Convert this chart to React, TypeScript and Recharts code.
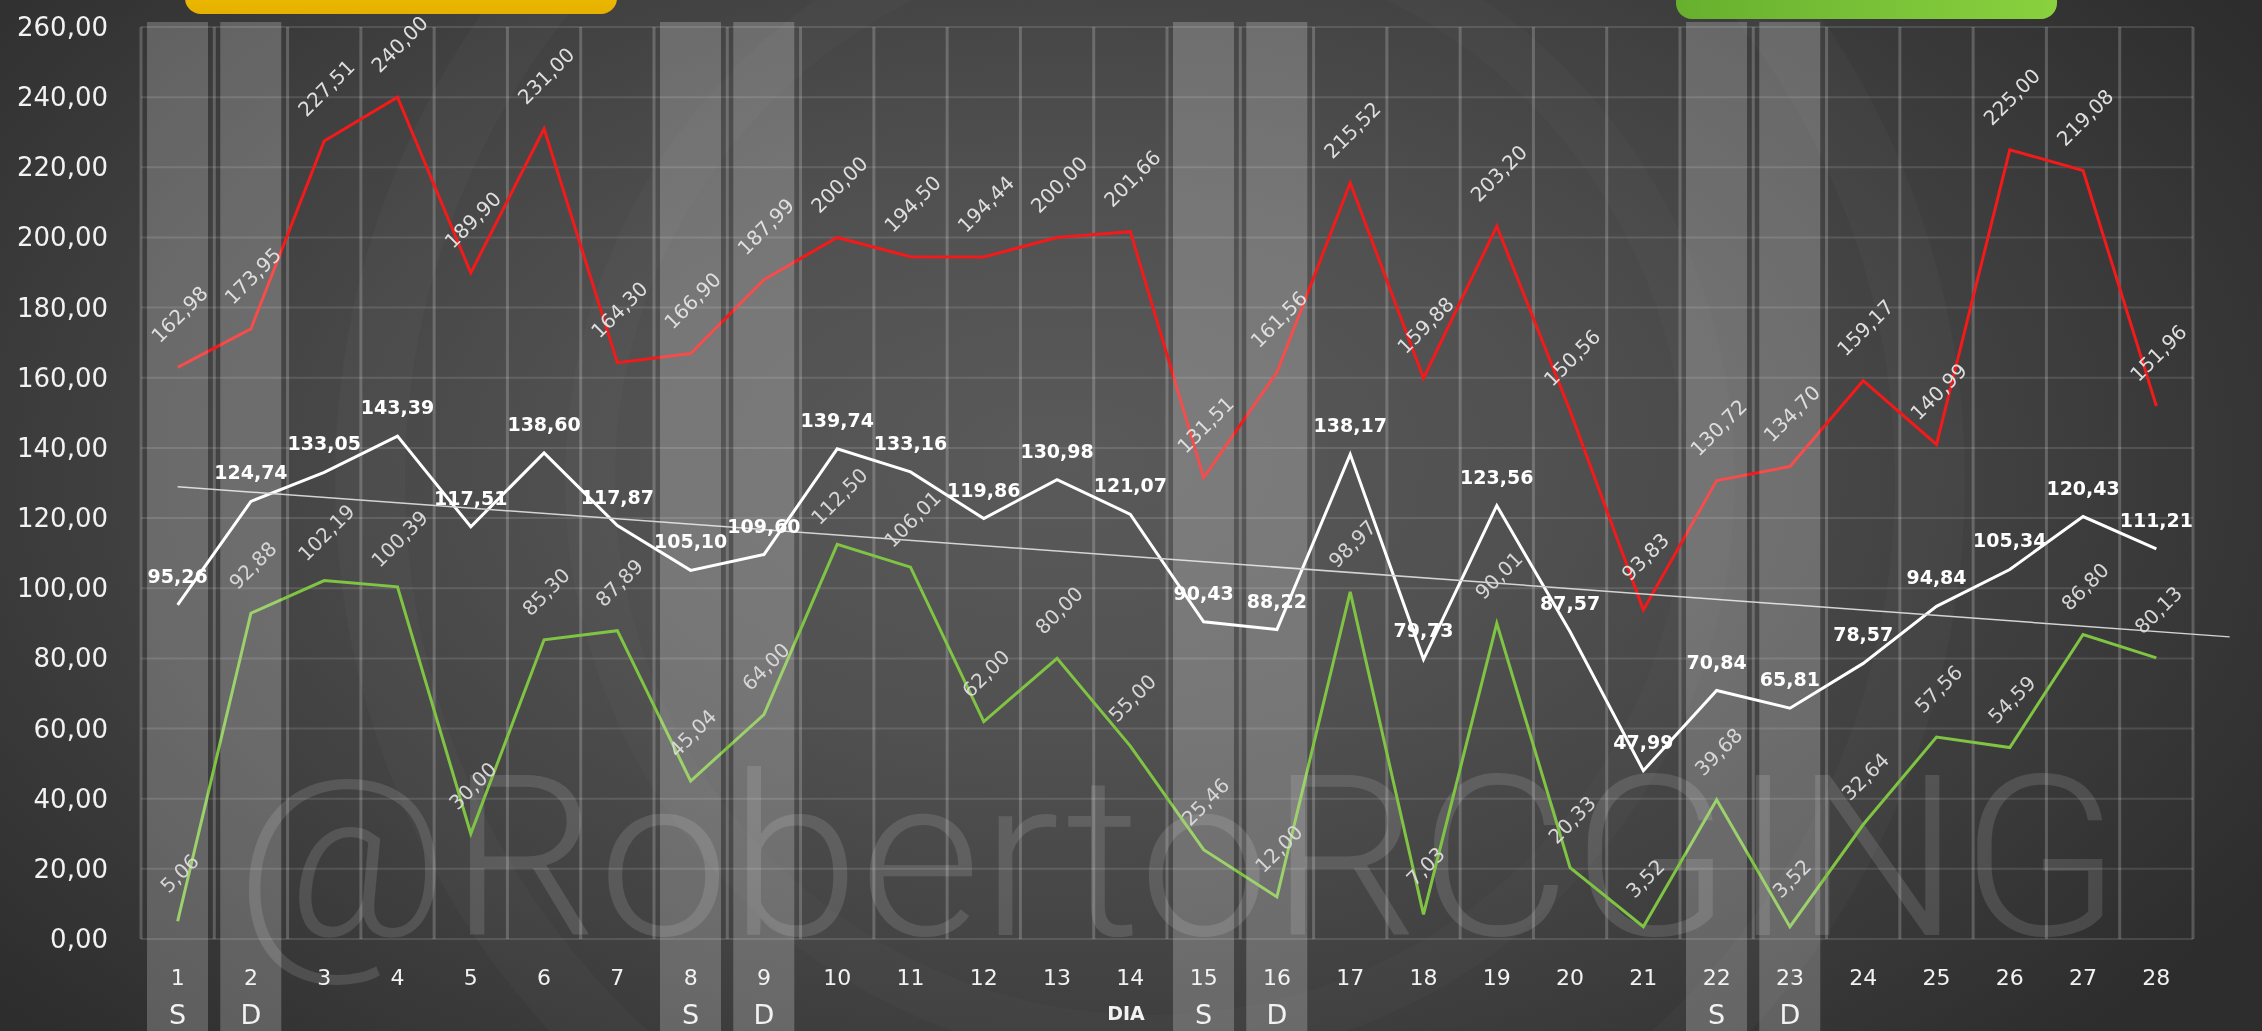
import React from 'react';
import {
  ComposedChart,
  Line,
  Bar,
  XAxis,
  YAxis,
  CartesianGrid,
  ReferenceLine,
  LabelList,
} from 'recharts';

const W = 2262;
const H = 1031;

// dias del mes
const days = [1, 2, 3, 4, 5, 6, 7, 8, 9, 10, 11, 12, 13, 14, 15, 16, 17, 18, 19, 20, 21, 22, 23, 24, 25, 26, 27, 28];

// serie roja (máximo)
const maxima = [
  162.98, 173.95, 227.51, 240.0, 189.9, 231.0, 164.3, 166.9, 187.99, 200.0, 194.5, 194.44, 200.0, 201.66,
  131.51, 161.56, 215.52, 159.88, 203.2, 150.56, 93.83, 130.72, 134.7, 159.17, 140.99, 225.0, 219.08, 151.96,
];

// serie blanca (media)
const media = [
  95.26, 124.74, 133.05, 143.39, 117.51, 138.6, 117.87, 105.1, 109.6, 139.74, 133.16, 119.86, 130.98, 121.07,
  90.43, 88.22, 138.17, 79.73, 123.56, 87.57, 47.99, 70.84, 65.81, 78.57, 94.84, 105.34, 120.43, 111.21,
];

// serie verde (mínimo)
const minima = [
  5.06, 92.88, 102.19, 100.39, 30.0, 85.3, 87.89, 45.04, 64.0, 112.5, 106.01, 62.0, 80.0, 55.0,
  25.46, 12.0, 98.97, 7.03, 90.01, 20.33, 3.52, 39.68, 3.52, 32.64, 57.56, 54.59, 86.8, 80.13,
];

// fines de semana (S = sábado, D = domingo)
const weekendDays = [1, 2, 8, 9, 15, 16, 22, 23];
const weekendLetters = ['S', 'D', 'S', 'D', 'S', 'D', 'S', 'D'];

const yTicks = [0, 20, 40, 60, 80, 100, 120, 140, 160, 180, 200, 220, 240, 260];
const Y_MAX = 260;

const data = days.map((day, i) => {
  const w = weekendDays.indexOf(day);
  return {
    day,
    max: maxima[i],
    avg: media[i],
    min: minima[i],
    shade: w >= 0 ? Y_MAX : null,
  };
});

// linea de tendencia (regresión lineal de la media, una posición hacia delante)
const n = media.length;
const meanX = days.reduce((a, b) => a + b, 0) / n;
const meanY = media.reduce((a, b) => a + b, 0) / n;
const slope =
  days.reduce((s, d, i) => s + (d - meanX) * (media[i] - meanY), 0) /
  days.reduce((s, d) => s + (d - meanX) * (d - meanX), 0);
const trendAt = (d: number) => meanY + slope * (d - meanX);
const trendFrom = days[0];
const trendTo = days[n - 1] + 1;

const boundaries = [0, ...days].map((d) => d + 0.5);

const fmt = (v: number) => v.toFixed(2).replace('.', ',');

const FONT = '"DejaVu Sans", sans-serif';

const YTick = (props: any) => {
  const { x, y, payload } = props;
  return (
    <text x={x - 33} y={y} textAnchor="end" dominantBaseline="central" fill="#f2f2f2" fontSize={26} fontFamily={FONT}>
      {fmt(payload.value)}
    </text>
  );
};

const DayTick = (props: any) => {
  const { x, y, payload } = props;
  const w = weekendDays.indexOf(payload.value);
  return (
    <g>
      <text x={x} y={y + 38} textAnchor="middle" dominantBaseline="central" fill="#f2f2f2" fontSize={22} fontFamily={FONT}>
        {payload.value}
      </text>
      {w >= 0 && (
        <text x={x} y={y + 75} textAnchor="middle" dominantBaseline="central" fill="#f2f2f2" fontSize={27} fontFamily={FONT}>
          {weekendLetters[w]}
        </text>
      )}
    </g>
  );
};

const rotatedLabel = (color: string, offset: number) => (props: any) => {
  const { x, y, value } = props;
  if (value == null) return null;
  const cx = x + 2;
  const cy = y - offset;
  return (
    <text
      x={cx}
      y={cy}
      transform={`rotate(-45 ${cx} ${cy})`}
      textAnchor="middle"
      dominantBaseline="central"
      fill={color}
      fontSize={20}
      fontFamily={FONT}
    >
      {fmt(value)}
    </text>
  );
};

const boldLabel = (props: any) => {
  const { x, y, value } = props;
  return (
    <text x={x} y={y - 29} textAnchor="middle" dominantBaseline="central" fill="#ffffff" fontSize={19} fontWeight="bold" fontFamily={FONT}>
      {fmt(value)}
    </text>
  );
};

const ShadeShape = (props: any) => {
  const { x, y, width, height } = props;
  if (!height) return null;
  return <rect x={x} y={y - 5} width={width} height={H - y + 5} fill="rgba(255,255,255,0.22)" />;
};

const App = () => {
  return (
    <div
      style={{
        position: 'fixed',
        left: 0,
        top: 0,
        width: W,
        height: H,
        overflow: 'hidden',
        background:
          'radial-gradient(ellipse 62% 80% at 47% 45%, #5a5a5a 0%, #505050 35%, #414141 65%, #2d2d2d 100%)',
      }}
    >
      <svg width={W} height={H} style={{ position: 'absolute', left: 0, top: 0 }}>
        <circle cx={1150} cy={480} r={780} fill="none" stroke="rgba(255,255,255,0.025)" strokeWidth={70} />
        <circle cx={1150} cy={480} r={560} fill="none" stroke="rgba(255,255,255,0.02)" strokeWidth={50} />
        <text
          x={235}
          y={935}
          fontSize={225}
          fontFamily="Roboto, sans-serif"
          fontWeight={300}
          fill="rgba(255,255,255,0.12)"
          textLength={1886}
          lengthAdjust="spacingAndGlyphs"
        >
          @RobertoRCGING
        </text>
      </svg>

      <div
        style={{
          position: 'absolute',
          left: 185,
          top: -30,
          width: 432,
          height: 44,
          borderRadius: 16,
          background: 'linear-gradient(#f3c400, #e6b000)',
        }}
      />
      <div
        style={{
          position: 'absolute',
          left: 1676,
          top: -30,
          width: 381,
          height: 49,
          borderRadius: 16,
          background: 'linear-gradient(90deg, #67b02e, #8ad13f)',
        }}
      />

      <div style={{ position: 'absolute', left: 0, top: 0 }}>
        <ComposedChart width={W} height={H} data={data} margin={{ top: 27, right: 69, bottom: 0, left: 0 }}>
          <CartesianGrid vertical={false} stroke="rgba(255,255,255,0.12)" strokeWidth={2} />
          <XAxis
            dataKey="day"
            type="number"
            domain={[0.5, 28.5]}
            ticks={days}
            interval={0}
            axisLine={false}
            tickLine={false}
            tickSize={0}
            tickMargin={0}
            height={92}
            tick={<DayTick />}
          />
          <YAxis
            type="number"
            domain={[0, Y_MAX]}
            ticks={yTicks}
            interval={0}
            axisLine={false}
            tickLine={false}
            tickSize={0}
            tickMargin={0}
            width={141}
            tick={<YTick />}
          />
          {boundaries.map((b) => (
            <ReferenceLine key={b} x={b} stroke="rgba(255,255,255,0.2)" strokeWidth={3} />
          ))}
          <Line dataKey="max" stroke="#f21a1a" strokeWidth={3} dot={false} isAnimationActive={false}>
            <LabelList dataKey="max" content={rotatedLabel('#dedede', 53)} />
          </Line>
          <Line dataKey="avg" stroke="#ffffff" strokeWidth={3} dot={false} isAnimationActive={false}>
            <LabelList dataKey="avg" content={boldLabel} />
          </Line>
          <Line dataKey="min" stroke="#80c443" strokeWidth={3} dot={false} isAnimationActive={false}>
            <LabelList dataKey="min" content={rotatedLabel('#d6d6d6', 48)} />
          </Line>
          <ReferenceLine
            segment={[
              { x: trendFrom, y: trendAt(trendFrom) },
              { x: trendTo, y: trendAt(trendTo) },
            ]}
            ifOverflow="visible"
            stroke="#d4d4d4"
            strokeWidth={1.5}
          />
          <Bar
            dataKey="shade"
            barSize={61}
            shape={<ShadeShape />}
            isAnimationActive={false}
            {...({ zIndex: 450 } as any)}
          />
        </ComposedChart>
      </div>

      <div
        style={{
          position: 'absolute',
          left: 1126,
          top: 1013,
          transform: 'translate(-50%, -50%)',
          color: '#f2f2f2',
          fontFamily: FONT,
          fontWeight: 'bold',
          fontSize: 19,
        }}
      >
        DIA
      </div>
    </div>
  );
};

export default App;
